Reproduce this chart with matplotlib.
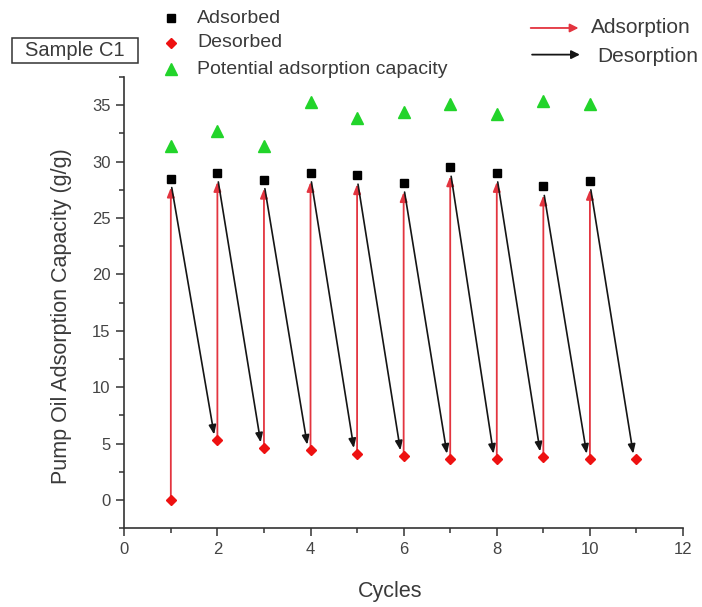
import numpy as np
import matplotlib
matplotlib.use("Agg")
import matplotlib.pyplot as plt
from matplotlib.lines import Line2D
from matplotlib.patches import FancyArrowPatch, Rectangle
from matplotlib.ticker import MultipleLocator

# Data
cycles = [1, 2, 3, 4, 5, 6, 7, 8, 9, 10]
adsorbed = [28.5, 29.0, 28.4, 29.0, 28.8, 28.1, 29.5, 29.0, 27.8, 28.3]
desorbed_cycles = [1, 2, 3, 4, 5, 6, 7, 8, 9, 10, 11]
desorbed = [0.0, 5.3, 4.6, 4.4, 4.1, 3.9, 3.6, 3.6, 3.8, 3.6, 3.6]
potential = [31.4, 32.7, 31.4, 35.3, 33.9, 34.4, 35.1, 34.2, 35.4, 35.1]

x_ticks = [0, 2, 4, 6, 8, 10, 12]
y_ticks = [0, 5, 10, 15, 20, 25, 30, 35]

RED = '#e3343f'
BLACK = '#151515'
GREEN = '#22d42a'
GRAY = '#333333'
TXT = '#3a3a3a'

plt.rcParams['font.family'] = ['Liberation Sans', 'DejaVu Sans']

fig = plt.figure(figsize=(7.02, 6.07), dpi=100)
ax = fig.add_axes([0.177, 0.130, 0.796, 0.743])

# Adsorption (red, vertical) and desorption (black, diagonal) arrows
for i, x in enumerate(cycles):
    ax.annotate('', xy=(x, adsorbed[i] - 0.8), xytext=(x, desorbed[i]),
                arrowprops=dict(arrowstyle='-|>,head_length=0.55,head_width=0.22',
                                color=RED, lw=1.3, shrinkA=0, shrinkB=0), zorder=2)
    ax.annotate('', xy=(desorbed_cycles[i + 1] - 0.07, desorbed[i + 1] + 0.5),
                xytext=(x + 0.02, adsorbed[i] - 0.8),
                arrowprops=dict(arrowstyle='-|>,head_length=0.55,head_width=0.22',
                                color=BLACK, lw=1.2, shrinkA=0, shrinkB=0), zorder=2)

ax.plot(cycles, adsorbed, 's', color='black', ms=5.5, zorder=3)
ax.plot(desorbed_cycles, desorbed, 'D', color='#ee1111', ms=5.5, zorder=3)
ax.plot(cycles, potential, '^', color=GREEN, ms=8, zorder=3)

ax.set_xlim(0, 12)
ax.set_ylim(-2.5, 37.5)
ax.set_xticks(x_ticks)
ax.set_yticks(y_ticks)
ax.xaxis.set_minor_locator(MultipleLocator(1))
ax.yaxis.set_minor_locator(MultipleLocator(2.5))
ax.tick_params(which='major', direction='out', length=6, width=1.1, color=GRAY,
               labelsize=12, labelcolor='#444444', pad=4)
ax.tick_params(which='minor', direction='out', length=3.5, width=1.1, color=GRAY)
for s in ['top', 'right']:
    ax.spines[s].set_visible(False)
for s in ['left', 'bottom']:
    ax.spines[s].set_color(GRAY)
    ax.spines[s].set_linewidth(1.2)

ax.set_xlabel('Cycles', fontsize=15.5, color=TXT)
ax.set_ylabel('Pump Oil Adsorption Capacity (g/g)', fontsize=15.5, color=TXT)
ax.xaxis.set_label_coords(0.476, -0.118)
ax.yaxis.set_label_coords(-0.093, 0.471)

# Marker legend at the top
legend_labels = ['Adsorbed', 'Desorbed', 'Potential adsorption capacity']
legend_markers = [('s', 'black', 5.5), ('D', '#ee1111', 5), ('^', GREEN, 8)]
legend_y = [0.9703, 0.9292, 0.8863]
for lab, (m, c, size), y in zip(legend_labels, legend_markers, legend_y):
    fig.add_artist(Line2D([0.2436], [y], marker=m, color=c, ms=size, ls='none',
                          transform=fig.transFigure))
    fig.text(0.2806, y, lab, fontsize=14, color=TXT, va='center')

# Arrow legend at the top right
fig.add_artist(FancyArrowPatch((0.752, 0.9539), (0.828, 0.9539), transform=fig.transFigure,
                               arrowstyle='-|>,head_length=5,head_width=2.5', color=RED, lw=1.3))
fig.text(0.8419, 0.9539, 'Adsorption', fontsize=15, color=TXT, va='center')
fig.add_artist(FancyArrowPatch((0.754, 0.9100), (0.830, 0.9100), transform=fig.transFigure,
                               arrowstyle='-|>,head_length=5,head_width=2.5', color=BLACK, lw=1.3))
fig.text(0.8504, 0.9077, 'Desorption', fontsize=15, color=TXT, va='center')

# Sample label box
fig.add_artist(Rectangle((0.0171, 0.8962), 0.1795, 0.0412, transform=fig.transFigure,
                         fill=False, ec='#333333', lw=1.1))
fig.text(0.1068, 0.916, 'Sample C1', fontsize=14.5, color=TXT, va='center', ha='center')

fig.savefig('out.png', dpi=100)
